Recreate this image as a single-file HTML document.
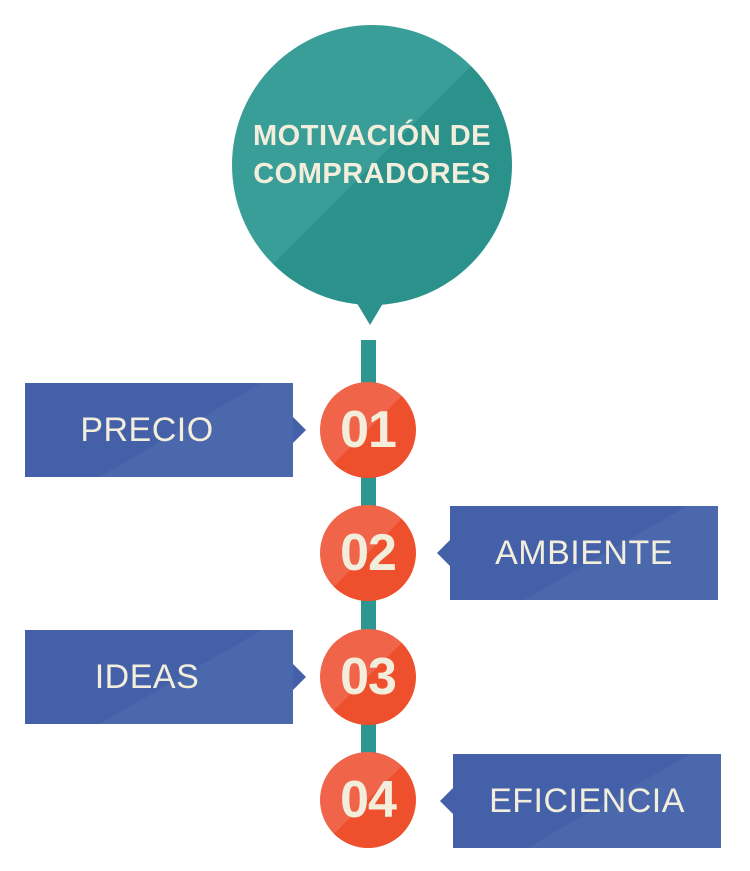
<!DOCTYPE html>
<html><head><style>
body{margin:0;width:750px;height:871px;background:#fff;position:relative;overflow:hidden;font-family:"Liberation Sans",sans-serif}
.a{position:absolute}
.line{left:361px;top:340px;width:15px;height:470px;background:#2e9690}
.big{left:232px;top:25px;width:280px;height:280px;border-radius:50%;background:linear-gradient(135deg,#3a9e98 50%,#2b918b 50%)}
.tip{left:352px;top:295px;width:0;height:0;border-left:18px solid transparent;border-right:18px solid transparent;border-top:30px solid #2b918b}
.bt{left:222px;top:117px;width:300px;text-align:center;color:#f3eedc;font-weight:bold;font-size:29px;line-height:38px;letter-spacing:0.5px}
.c{width:96px;height:96px;border-radius:50%;background:linear-gradient(135deg,#f0654a 50%,#ee4f2c 50%);color:#f3eedc;font-weight:bold;font-size:52px;line-height:96px;text-align:center;letter-spacing:-1px}
.b{width:268px;height:94px;background:linear-gradient(150deg,#4360a8 55%,#4a68ab 55%);color:#f3eedc;font-size:34px;line-height:94px;text-align:center;letter-spacing:0.5px}
.tr{width:0;height:0;border-top:13px solid transparent;border-bottom:13px solid transparent}
</style></head><body>
<div class="a line"></div>
<div class="a big"></div>
<div class="a tip"></div>
<div class="a bt">MOTIVACIÓN DE<br>COMPRADORES</div>

<div class="a b" style="left:25px;top:383px;text-indent:-24px">PRECIO</div>
<div class="a tr" style="left:293px;top:417px;border-left:13px solid #4360a8"></div>
<div class="a b" style="left:450px;top:506px">AMBIENTE</div>
<div class="a tr" style="left:437px;top:540px;border-right:13px solid #4360a8"></div>
<div class="a b" style="left:25px;top:630px;text-indent:-24px">IDEAS</div>
<div class="a tr" style="left:293px;top:664px;border-left:13px solid #4360a8"></div>
<div class="a b" style="left:453px;top:754px">EFICIENCIA</div>
<div class="a tr" style="left:440px;top:788px;border-right:13px solid #4360a8"></div>

<div class="a c" style="left:320px;top:382px">01</div>
<div class="a c" style="left:320px;top:505px">02</div>
<div class="a c" style="left:320px;top:629px">03</div>
<div class="a c" style="left:320px;top:752px">04</div>
</body></html>
